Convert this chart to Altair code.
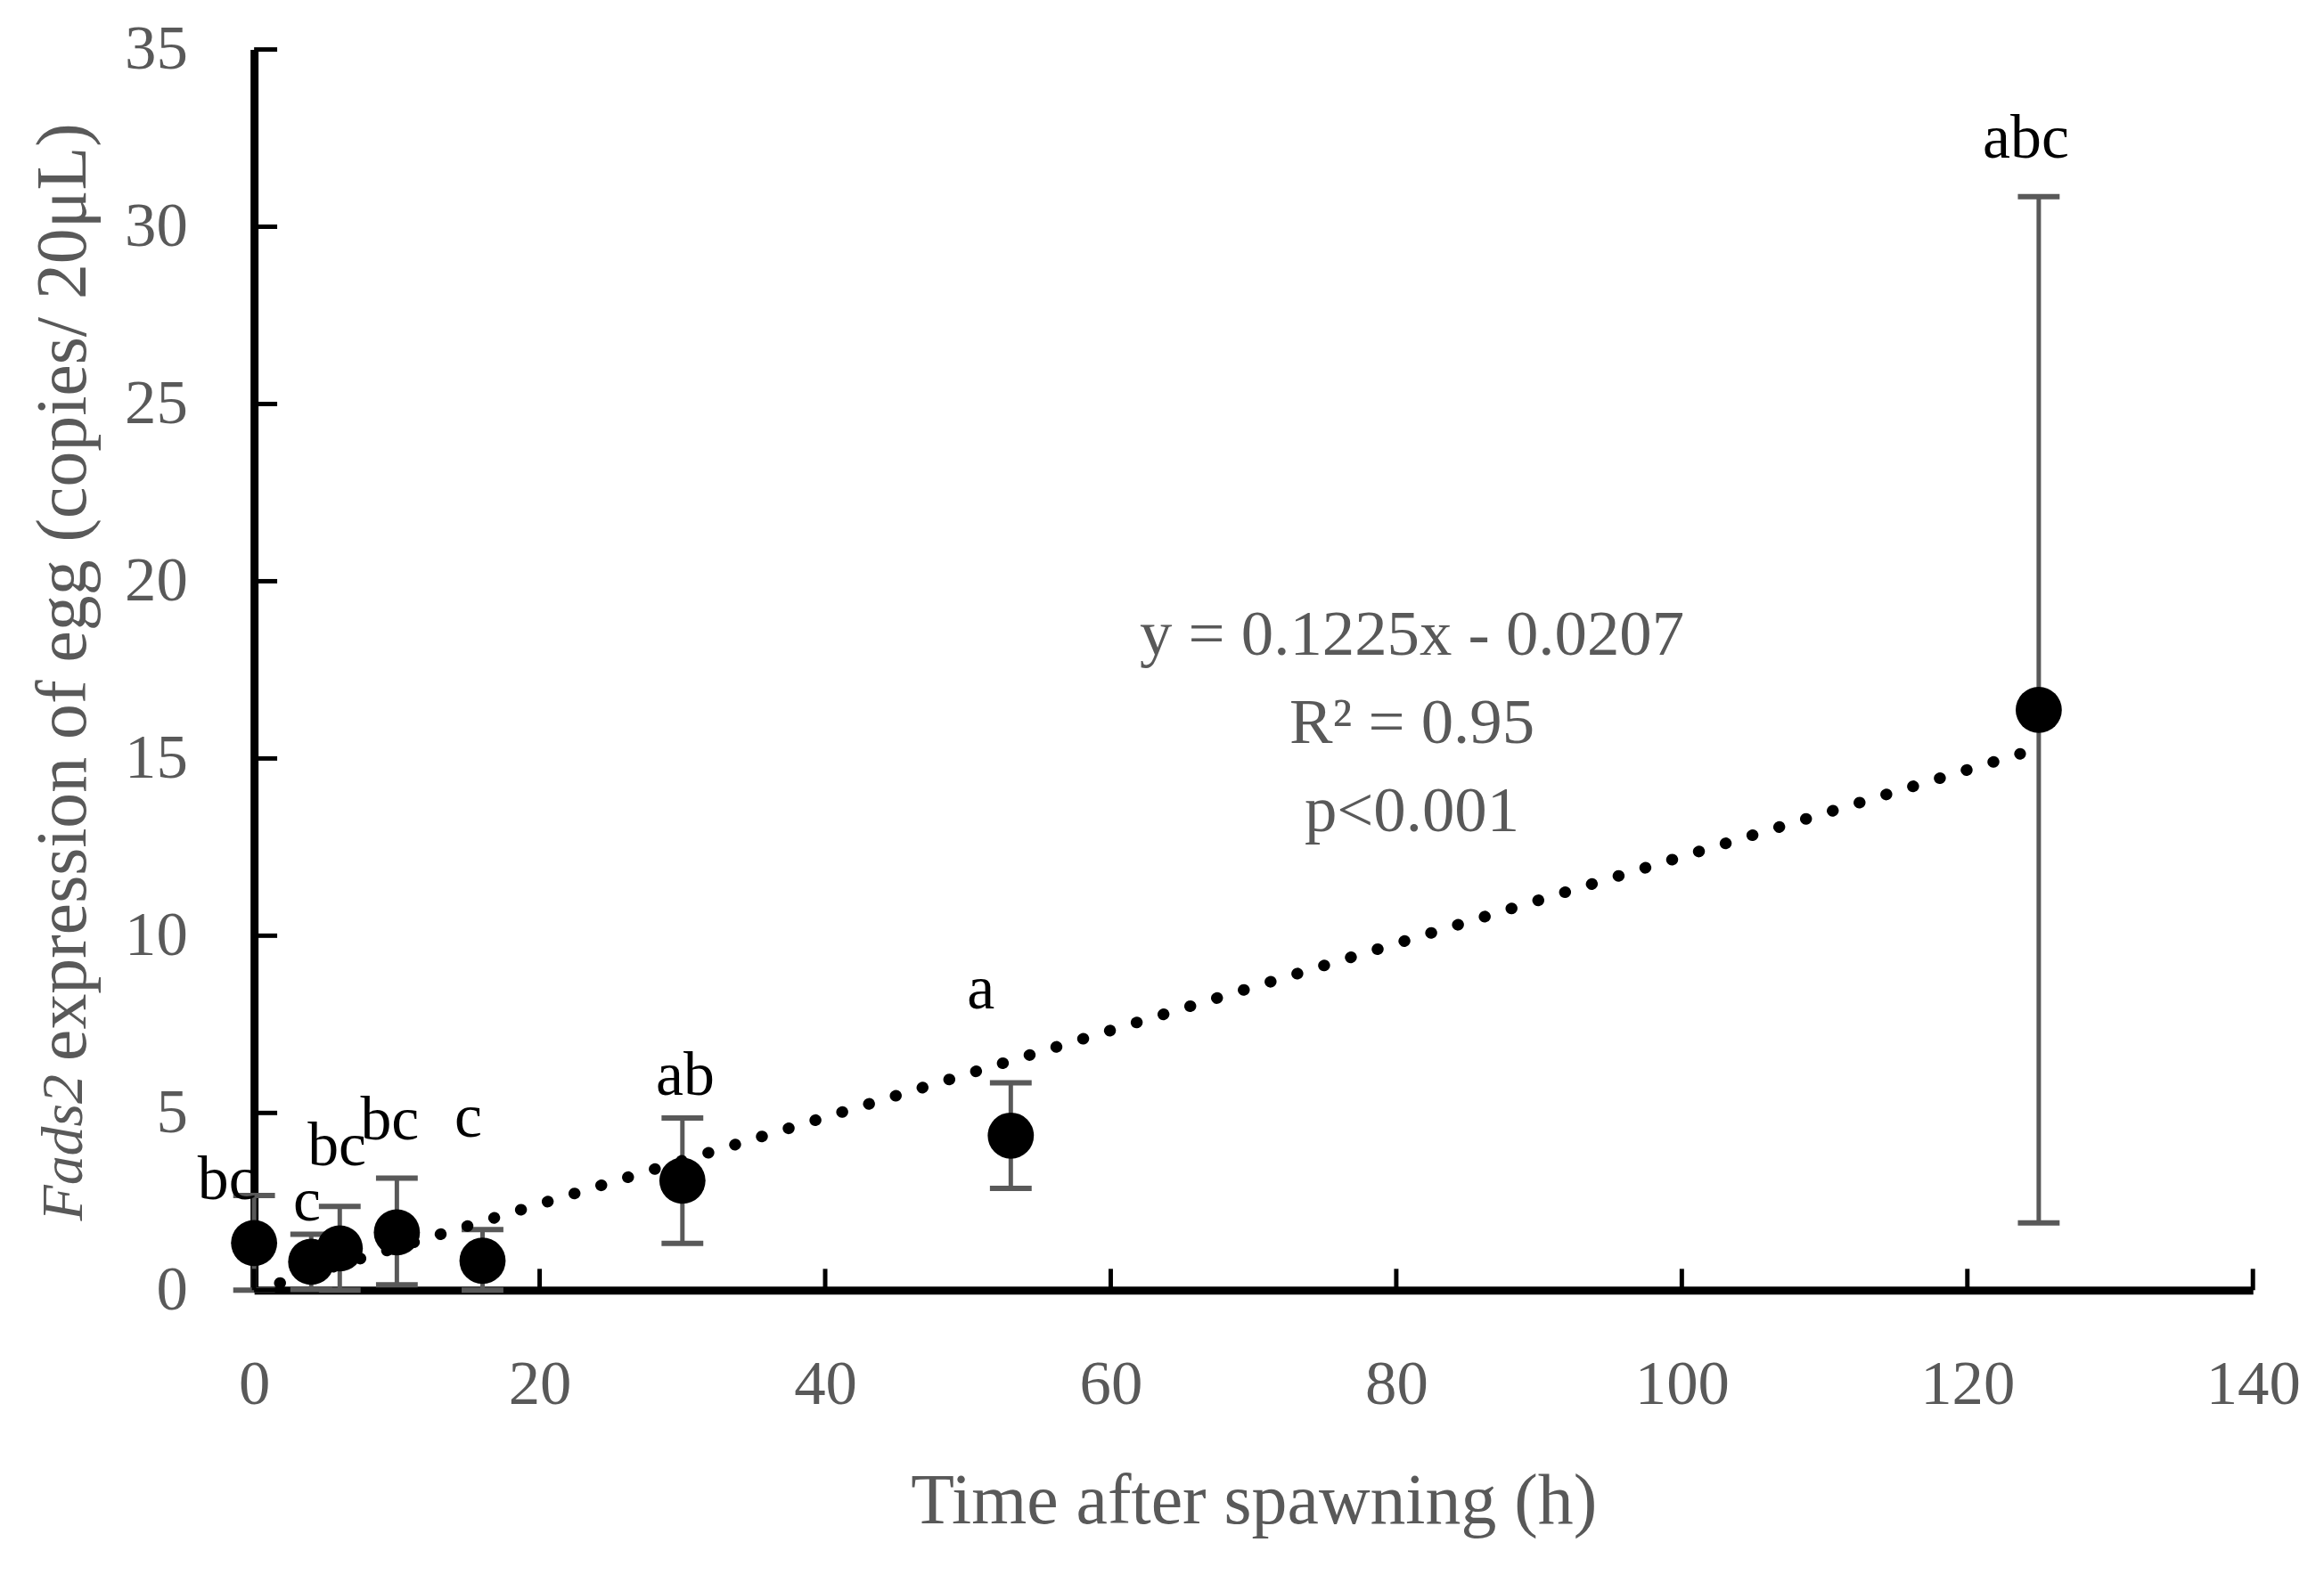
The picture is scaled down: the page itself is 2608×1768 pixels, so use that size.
import altair as alt
import pandas as pd

# ---- data ----
hours = [0, 4, 6, 10, 16, 30, 53, 125]
mean_expr = [1.33, 0.80, 1.18, 1.63, 0.83, 3.09, 4.36, 16.37]
err_upper = [2.67, 1.58, 2.36, 3.16, 1.71, 4.86, 5.85, 30.85]
err_lower = [0.0, 0.02, 0.0, 0.15, 0.0, 1.32, 2.87, 1.90]

letters = ["bc", "c", "bc", "bc", "c", "ab", "a", "abc"]
letter_x = [-1.9, 3.7, 5.8, 9.5, 15.0, 30.2, 50.9, 124.1]
letter_y = [2.56, 1.96, 3.53, 4.26, 4.34, 5.51, 7.94, 31.95]

slope = 0.1225
intercept = -0.0207
trend_x = [1.8, 123.7]

eq_lines = ["y = 0.1225x - 0.0207", "R\u00b2 = 0.95", "p<0.001"]
eq_x = [81.1, 81.1, 81.1]
eq_y = [17.92, 15.43, 12.95]

x_ticks = [0, 20, 40, 60, 80, 100, 120, 140]
y_ticks = [0, 5, 10, 15, 20, 25, 30, 35]

W, H = 2250, 1397
FONT = "Liberation Serif"
GRAY = "#595959"

pts = pd.DataFrame({"t": hours, "m": mean_expr, "lo": err_lower, "hi": err_upper})
lab = pd.DataFrame({"x": letter_x, "y": letter_y, "txt": letters})
trend = pd.DataFrame({"x": trend_x, "y": [slope * v + intercept for v in trend_x]})
eq = pd.DataFrame({"x": eq_x, "y": eq_y, "txt": eq_lines})
xt = pd.DataFrame({"v": x_ticks})
yt = pd.DataFrame({"v": y_ticks})

xs = alt.Scale(domain=[0, 140], nice=False, zero=False)
ys = alt.Scale(domain=[0, 35], nice=False)

x_axis = alt.Axis(values=x_ticks, title="Time after spawning (h)", ticks=False, tickSize=0,
                  labelPadding=72, titlePadding=57, labelFlush=False)
y_axis = alt.Axis(values=y_ticks, title=None, ticks=False, tickSize=0, labelPadding=75,
                  labelFlush=False)

base = alt.Chart(pts)

bars = base.mark_rule(color=GRAY, strokeWidth=5).encode(
    x=alt.X("t:Q", scale=xs, axis=x_axis),
    y=alt.Y("lo:Q", scale=ys, axis=y_axis),
    y2="hi:Q",
)
cap_hi = base.mark_tick(orient="horizontal", size=47, thickness=6, color=GRAY, opacity=1).encode(
    x=alt.X("t:Q", scale=xs), y=alt.Y("hi:Q", scale=ys))
cap_lo = base.mark_tick(orient="horizontal", size=47, thickness=6, color=GRAY, opacity=1).encode(
    x=alt.X("t:Q", scale=xs), y=alt.Y("lo:Q", scale=ys))

trend_line = alt.Chart(trend).mark_line(color="black", strokeWidth=13, strokeDash=[0.5, 31],
                                         strokeCap="round").encode(
    x=alt.X("x:Q", scale=xs), y=alt.Y("y:Q", scale=ys))

points = base.mark_circle(size=2700, color="black", opacity=1).encode(
    x=alt.X("t:Q", scale=xs), y=alt.Y("m:Q", scale=ys))

letters_layer = alt.Chart(lab).mark_text(font=FONT, fontSize=70, color="black",
                                         align="center", baseline="alphabetic").encode(
    x=alt.X("x:Q", scale=xs), y=alt.Y("y:Q", scale=ys), text="txt:N")

eq_layer = alt.Chart(eq).mark_text(font=FONT, fontSize=73, color=GRAY,
                                   align="center", baseline="alphabetic").encode(
    x=alt.X("x:Q", scale=xs), y=alt.Y("y:Q", scale=ys), text="txt:N")

ytick_layer = alt.Chart(yt).mark_rule(color="black", strokeWidth=5).encode(
    y=alt.Y("v:Q", scale=ys), x=alt.value(0), x2=alt.value(26))
xtick_layer = alt.Chart(xt).mark_rule(color="black", strokeWidth=5).encode(
    x=alt.X("v:Q", scale=xs), y=alt.value(H), y2=alt.value(H - 24))

ytitle_it = alt.Chart(pd.DataFrame({"txt": ["Fads2"]})).mark_text(
    font=FONT, fontSize=66, fontStyle="italic", color=GRAY, angle=270,
    align="left", baseline="middle").encode(
    x=alt.value(-214), y=alt.value(1319), text="txt:N")
ytitle_rest = alt.Chart(pd.DataFrame({"txt": ["expression of egg (copies/ 20\u03bcL)"]})).mark_text(
    font=FONT, fontSize=80, color=GRAY, angle=270,
    align="right", baseline="middle").encode(
    x=alt.value(-214), y=alt.value(83), text="txt:N")

chart = alt.layer(
    bars, cap_hi, cap_lo, trend_line, points, letters_layer, eq_layer,
    ytick_layer, xtick_layer, ytitle_it, ytitle_rest,
).properties(
    width=W, height=H,
    background="white",
    autosize=alt.AutoSizeParams(type="none"),
    padding={"left": 278, "top": 45, "right": 72, "bottom": 318},
).configure_view(stroke=None).configure_axis(
    grid=False, domainColor="black", domainWidth=9,
    labelFont=FONT, labelFontSize=71, labelColor=GRAY,
    titleFont=FONT, titleFontSize=80, titleColor=GRAY, titleFontWeight="normal",
)

chart.save("out.html", embed_options={"renderer": "svg", "actions": False})
